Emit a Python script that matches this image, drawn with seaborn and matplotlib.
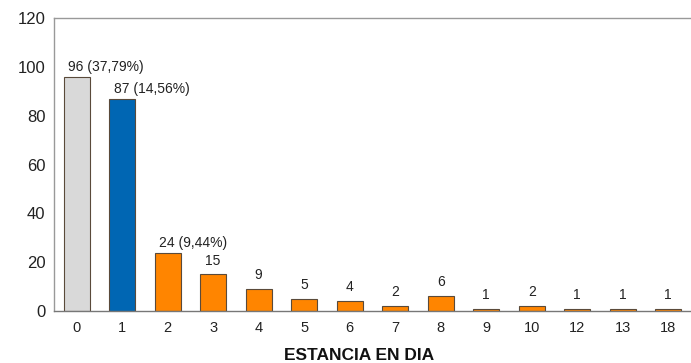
import matplotlib
matplotlib.use("Agg")
import matplotlib.pyplot as plt
import seaborn as sns
import pandas as pd

# Data
dias = ["0", "1", "2", "3", "4", "5", "6", "7", "8", "9", "10", "12", "13", "18"]
pacientes = [96, 87, 24, 15, 9, 5, 4, 2, 6, 1, 2, 1, 1, 1]
etiquetas = ["96 (37,79%)", "87 (14,56%)", "24 (9,44%)", "15", "9", "5", "4",
             "2", "6", "1", "2", "1", "1", "1"]
colores = ["#D9D9D9", "#0066B3"] + ["#FF8500"] * 12

df = pd.DataFrame({"dia": dias, "n": pacientes})

sns.set_style("white")
plt.rcParams["font.family"] = ["Liberation Sans", "DejaVu Sans"]

fig = plt.figure(figsize=(6.91, 3.63), dpi=100)
ax = fig.add_axes([0.078, 0.143, 0.922, 0.807])

sns.barplot(data=df, x="dia", y="n", hue="dia", palette=colores, legend=False,
            saturation=1, width=0.57, edgecolor="#5a4a3a", linewidth=0.8,
            ax=ax, order=dias)

# number centred over the bar, percentage running to the right
for cont, lab in zip(ax.containers, etiquetas):
    bar = cont.patches[0]
    xc = bar.get_x() + bar.get_width() / 2
    h = bar.get_height()
    if "(" in lab:
        ax.annotate(lab, (xc, h), xytext=(-6, 2), textcoords="offset points",
                    ha="left", va="bottom", fontsize=10, color="#222222")
    else:
        ax.annotate(lab, (xc, h), xytext=(0, 5), textcoords="offset points",
                    ha="center", va="bottom", fontsize=10, color="#222222")

ax.set_ylim(0, 120)
ax.set_xlim(-0.5, 13.5)
ax.set_yticks(range(0, 121, 20))
ax.tick_params(axis="y", labelsize=12, length=0, pad=6, labelcolor="#222222")
ax.tick_params(axis="x", labelsize=10.5, length=0, pad=7, labelcolor="#222222")
ax.set_ylabel("")
ax.set_xlabel("ESTANCIA EN DIA", fontsize=12.5, fontweight="bold",
              color="#111111")
ax.xaxis.set_label_coords(0.479, -0.125)
for s in ax.spines.values():
    s.set_color("#999999")
    s.set_linewidth(1)
ax.spines["bottom"].set_color("#777777")
ax.spines["right"].set_visible(False)

fig.savefig("out.png", dpi=100)
